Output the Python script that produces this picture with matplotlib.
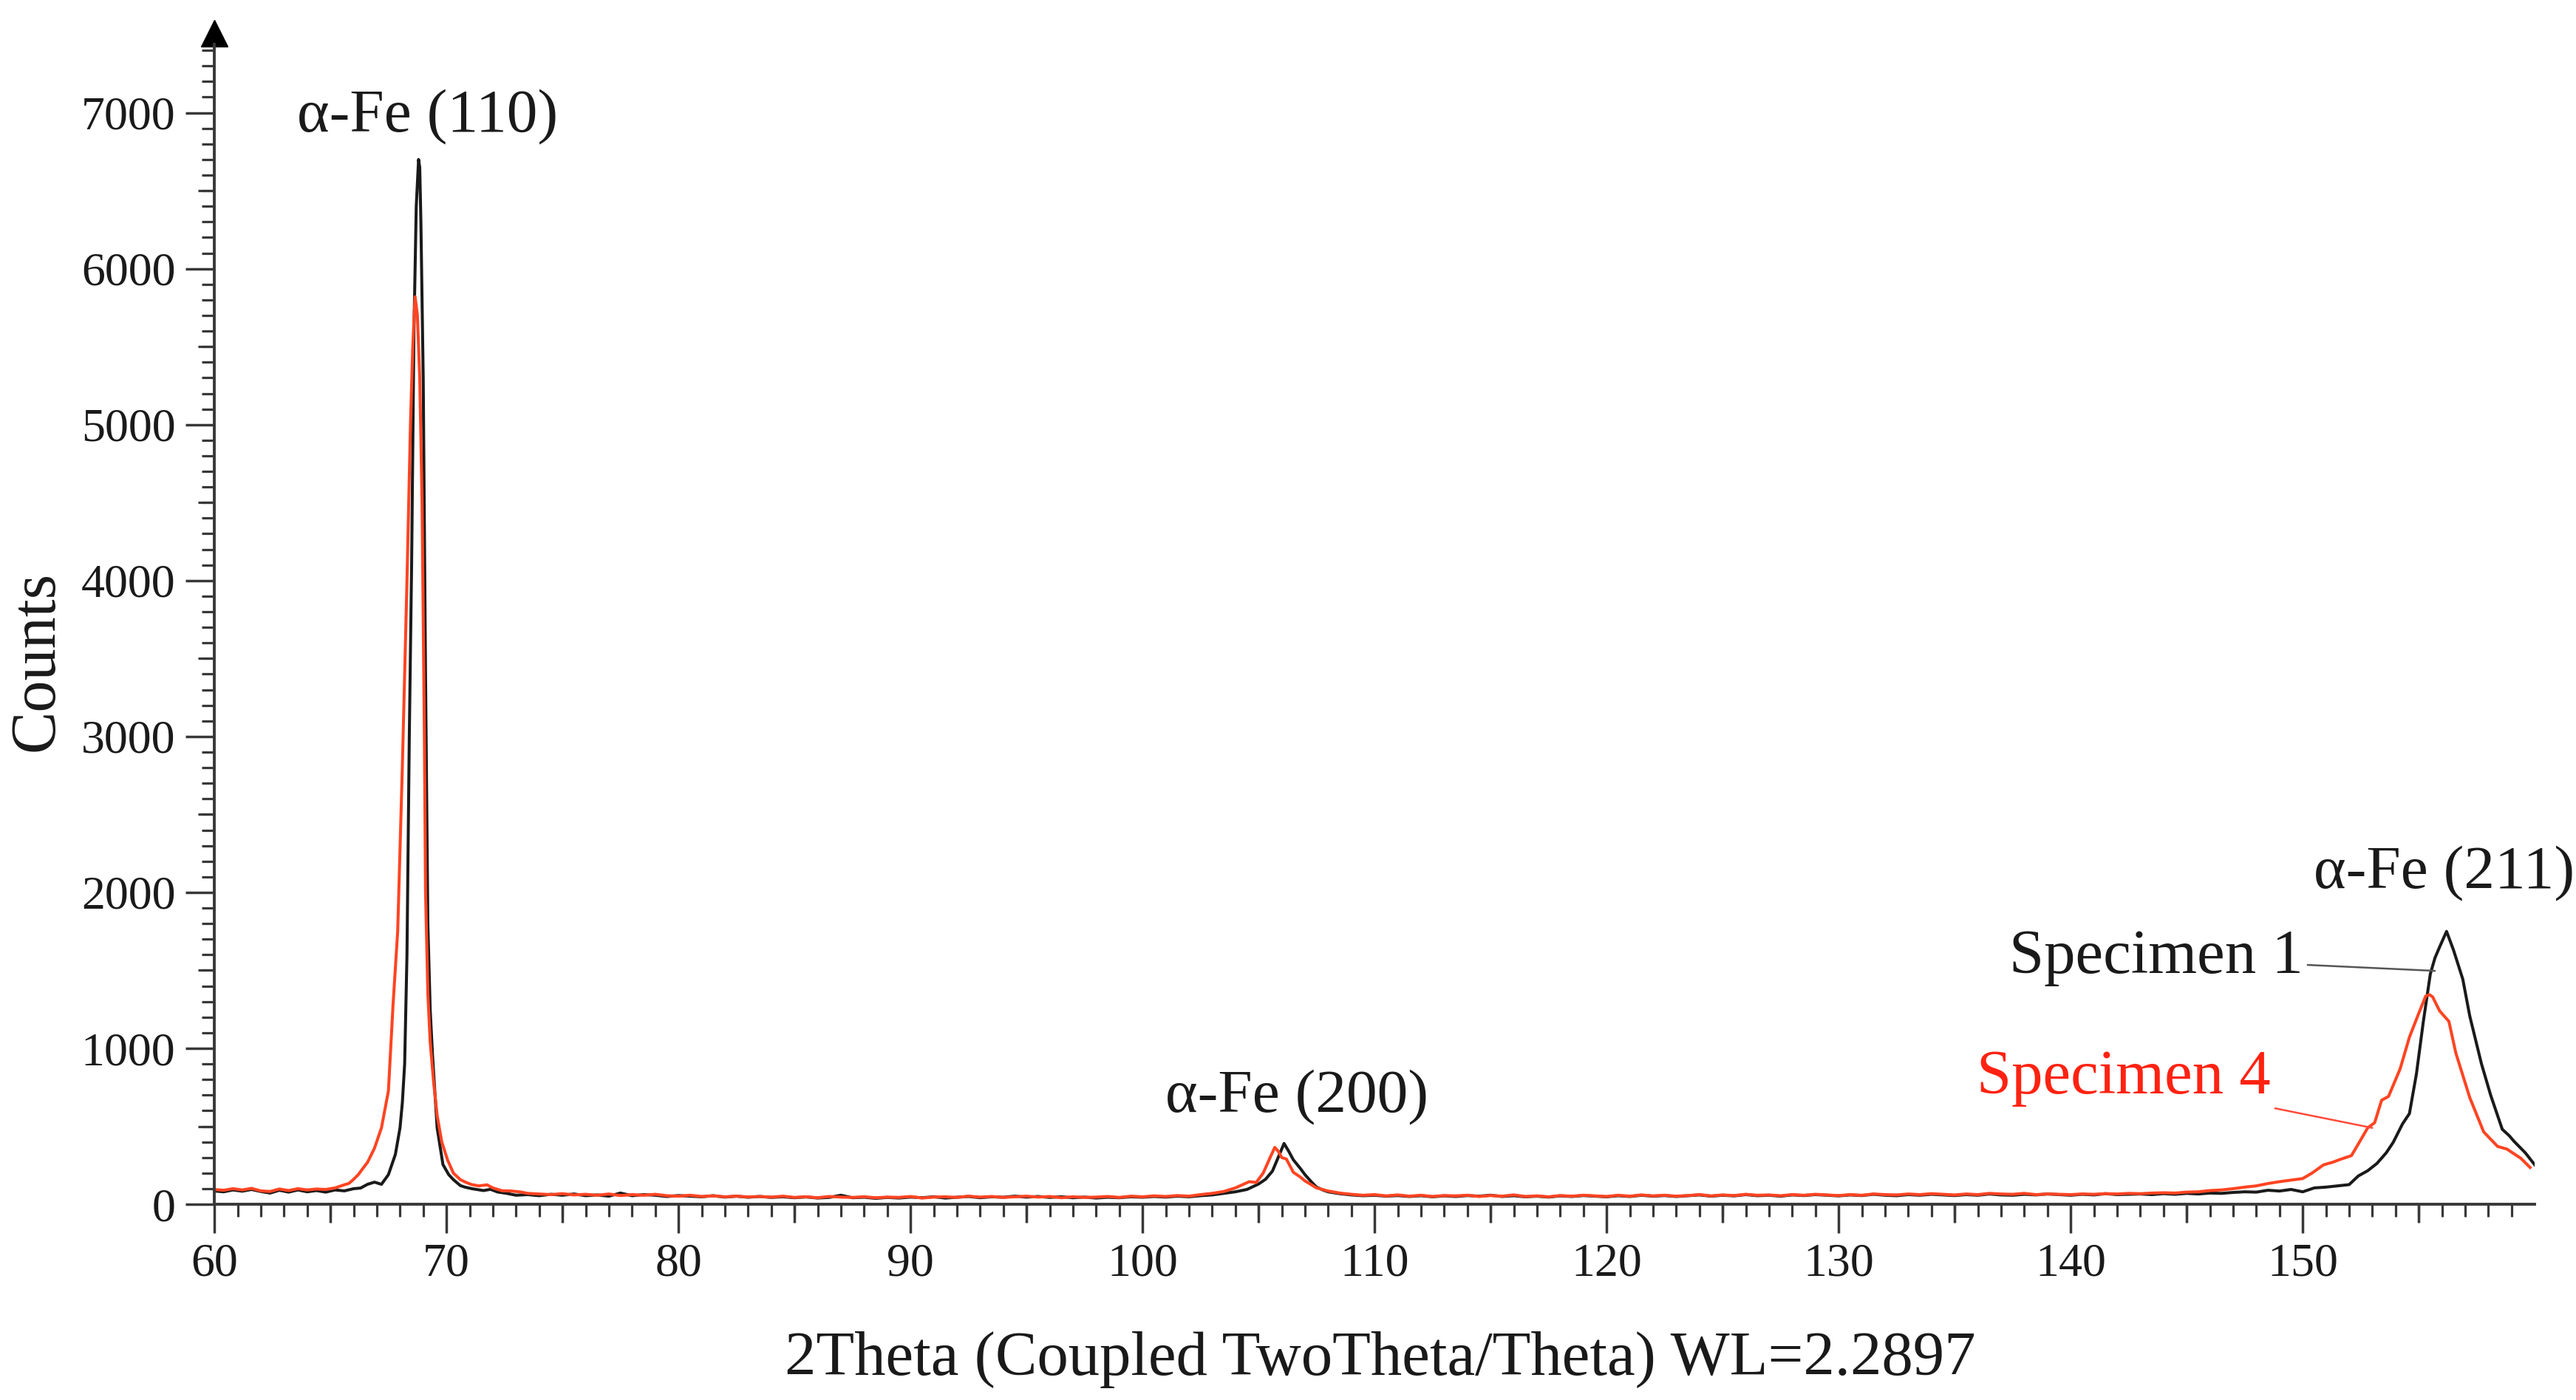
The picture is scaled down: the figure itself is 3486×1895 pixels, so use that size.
import numpy as np
import matplotlib.pyplot as plt

plt.rcParams['font.family'] = ['Liberation Serif', 'DejaVu Serif']

# ---- data (2theta in deg, counts) ----
# Specimen 1 (black)
s1_a_x = [60.0, 60.4, 60.8, 61.2, 61.6, 62.0, 62.4, 62.8, 63.2, 63.6, 64.0, 64.4, 64.8, 65.2, 65.6]
s1_a_y = [85, 80, 92, 84, 95, 82, 72, 90, 78, 92, 80, 88, 78, 92, 86]
s1_b_x = [66.0, 66.3, 66.6, 66.9, 67.2, 67.5, 67.8, 68.0, 68.1, 68.2, 68.3, 68.4, 68.5, 68.6,
          68.7, 68.8, 68.85, 68.9, 69.0, 69.1, 69.2, 69.3, 69.4, 69.6, 69.85, 70.1, 70.3, 70.6,
          70.8, 71.1, 71.3, 71.6, 71.9, 72.2, 72.6, 73.0]
s1_b_y = [100, 104, 128, 142, 128, 190, 320, 490, 650, 900, 1600, 3000, 4100, 5600,
          6400, 6700, 6650, 6300, 5300, 3400, 1800, 1250, 960, 490, 255, 190, 158, 120,
          110, 100, 95, 88, 96, 79, 70, 58]
s1_c_start = 73.5  # step 0.5
s1_c_y = [62, 55, 64, 58, 66, 55, 60, 52, 72, 55, 62, 58, 50, 56, 52, 48, 55, 46, 52, 45,
          50, 44, 48, 42, 47, 40, 44, 58, 42, 45, 38, 44, 40, 46, 42, 48, 40, 45, 50, 42,
          48, 45, 52, 46, 50, 44, 48, 42, 46, 40, 45, 42, 48, 45, 50, 46, 52, 48, 55]
s1_d_x = [103.0, 103.5, 104.0, 104.5, 105.0, 105.3, 105.6, 105.9, 106.1, 106.3, 106.5,
          106.8, 107.0, 107.3, 107.5, 107.8, 108.0]
s1_d_y = [60, 70, 80, 95, 130, 160, 213, 320, 390, 340, 285, 230, 190, 140, 110, 90, 80]
s1_e_start = 108.5  # step 0.5
s1_e_y = [68, 60, 55, 58, 52, 56, 50, 55, 48, 54, 50, 56, 52, 58, 50, 55, 48, 52, 46, 54,
          50, 56, 52, 48, 55, 50, 58, 52, 56, 50, 55, 60, 52, 58, 54, 62, 55, 58, 52, 60,
          56, 62, 58, 54, 60, 56, 64, 58, 55, 62, 58, 64, 60, 56, 62, 58, 66, 60, 58, 64,
          60, 66, 62, 58, 64, 60, 68, 62, 64, 66, 62, 68, 64, 70]
s1_f_x = [145.5, 146.0, 146.5, 147.0, 147.5, 148.0, 148.5, 149.0, 149.5, 150.0, 150.5, 151.0,
          151.5, 152.0, 152.4, 152.8, 153.2, 153.6, 153.9, 154.3, 154.6, 154.9, 155.2, 155.5,
          155.7, 155.9, 156.2, 156.5, 156.9, 157.2, 157.7, 158.1, 158.6, 158.9, 159.1, 159.6, 160.0]
s1_f_y = [66, 72, 70, 76, 80, 78, 90, 85, 95, 80, 105, 110, 118, 126, 182, 215, 262, 330,
          397, 515, 582, 835, 1173, 1477, 1580, 1650, 1750, 1630, 1443, 1207, 903, 700, 481,
          440, 405, 329, 253]

# Specimen 4 (red)
s4_a_x = [60.0, 60.4, 60.8, 61.2, 61.6, 62.0, 62.4, 62.8, 63.2, 63.6, 64.0, 64.4, 64.8, 65.2]
s4_a_y = [95, 90, 100, 92, 102, 86, 82, 98, 88, 100, 92, 98, 95, 105]
s4_b_x = [65.6, 65.8, 66.0, 66.2, 66.4, 66.6, 66.9, 67.2, 67.5, 67.7, 67.9, 68.1, 68.3, 68.45,
          68.55, 68.65, 68.75, 68.85, 68.95, 69.05, 69.1, 69.2, 69.3, 69.45, 69.6, 69.8, 70.05,
          70.3, 70.6, 70.85, 71.1, 71.4, 71.75, 72.0, 72.4, 72.8, 73.2]
s4_b_y = [125, 134, 160, 190, 230, 269, 360, 490, 727, 1280, 1750, 2800, 4000, 5000,
          5500, 5820, 5700, 5300, 4500, 3000, 2000, 1350, 1040, 780, 570, 400, 284,
          200, 158, 140, 126, 118, 125, 105, 87, 85, 79]
s4_c_start = 73.5  # step 0.5
s4_c_y = [70, 66, 62, 68, 60, 64, 58, 66, 56, 62, 58, 64, 55, 52, 58, 50, 54, 48, 52, 47,
          50, 46, 52, 44, 48, 42, 50, 46, 44, 48, 42, 46, 44, 50, 40, 46, 48, 44, 52, 46,
          50, 44, 48, 52, 46, 50, 42, 48, 44, 46, 50, 44, 52, 48, 54, 50, 56, 52]
s4_d_x = [102.5, 103.0, 103.5, 104.0, 104.3, 104.6, 104.9, 105.2, 105.5, 105.7, 105.85,
          106.0, 106.2, 106.5, 106.8, 107.0, 107.5, 108.0]
s4_d_y = [62, 70, 82, 105, 125, 145, 140, 200, 300, 365, 340, 300, 290, 205, 175, 150, 105, 85]
s4_e_start = 108.5  # step 0.5
s4_e_y = [72, 64, 58, 62, 54, 60, 52, 58, 50, 56, 54, 58, 50, 56, 52, 60, 50, 54, 48, 56,
          52, 58, 54, 50, 58, 52, 60, 54, 58, 52, 56, 62, 54, 60, 56, 64, 58, 60, 55, 62,
          58, 64, 60, 56, 62, 58, 66, 62, 60, 66, 62, 68, 64, 60, 66, 62, 70, 66, 64, 70,
          62, 66, 64, 62, 66, 64, 68, 66, 70, 68, 72, 74, 72, 78]
s4_f_x = [145.5, 146.0, 146.5, 147.0, 147.5, 148.0, 148.5, 149.0, 149.5, 150.0, 150.4, 150.9,
          151.3, 151.6, 152.1, 152.5, 152.8, 153.1, 153.4, 153.7, 154.2, 154.6, 155.0, 155.3,
          155.45, 155.6, 155.9, 156.3, 156.6, 157.2, 157.8, 158.4, 158.8, 159.4, 159.8]
s4_f_y = [80, 88, 92, 100, 110, 118, 133, 145, 155, 165, 200, 253, 270, 287, 312, 413, 490,
          523, 667, 692, 869, 1072, 1224, 1335, 1345, 1330, 1240, 1173, 970, 684, 464, 371,
          354, 295, 236]


def grid(start, vals, step=0.5):
    return list(start + step * np.arange(len(vals)))


s1_x = s1_a_x + s1_b_x + grid(s1_c_start, s1_c_y) + s1_d_x + grid(s1_e_start, s1_e_y) + s1_f_x
s1_y = s1_a_y + s1_b_y + s1_c_y + s1_d_y + s1_e_y + s1_f_y
s4_x = s4_a_x + s4_b_x + grid(s4_c_start, s4_c_y) + s4_d_x + grid(s4_e_start, s4_e_y) + s4_f_x
s4_y = s4_a_y + s4_b_y + s4_c_y + s4_d_y + s4_e_y + s4_f_y

peak_labels = ['α-Fe (110)', 'α-Fe (200)', 'α-Fe (211)']
peak_label_pos = [(69.2, 6970), (106.65, 683), (156.1, 2118)]

black = '#1a1a1a'
red_line = '#ff4422'
red_text = '#ff2211'
axis_col = '#383838'

fig = plt.figure(figsize=(34.87, 18.95), dpi=100)
ax = fig.add_axes([0.0832, 0.1398, 0.9005, 0.8465])

ax.plot(s1_x, s1_y, color=black, lw=2.9)
ax.plot(s4_x, s4_y, color=red_line, lw=2.9)

ax.set_xlim(60, 160)
ax.set_ylim(0, 7600)

for s in ['top', 'right']:
    ax.spines[s].set_visible(False)
ax.spines['left'].set_bounds(0, 7440)
ax.spines['bottom'].set_bounds(60, 160)
for s in ['left', 'bottom']:
    ax.spines[s].set_color(axis_col)
    ax.spines[s].set_linewidth(2.8)

# axis arrow on the y axis
ax.plot([60], [7512], marker='^', ms=26, color='black', clip_on=False)

ax.set_xticks(np.arange(60, 151, 10))
ax.set_xticks(np.arange(60, 160, 1), minor=True)
ax.set_yticks(np.arange(0, 7001, 1000))
ax.set_yticks(np.arange(0, 7401, 100), minor=True)
ax.tick_params(which='major', length=28, width=2.5, color=axis_col, labelsize=46, pad=10,
               labelcolor=black)
ax.tick_params(which='minor', length=12, width=2.3, color=axis_col)

# medium ticks (every 5 deg / every 500 counts)
secx = ax.secondary_xaxis('bottom')
secx.set_xticks(np.arange(65, 160, 10))
secx.tick_params(length=18, width=2.5, color=axis_col, labelbottom=False)
secx.spines['bottom'].set_visible(False)
secy = ax.secondary_yaxis('left')
secy.set_yticks(np.arange(500, 7001, 1000))
secy.tick_params(length=16, width=2.3, color=axis_col, labelleft=False)
secy.spines['left'].set_visible(False)

ax.set_ylabel('Counts', fontsize=62, color=black)
ax.yaxis.set_label_coords(-0.0635, 0.458)
ax.set_xlabel('2Theta (Coupled TwoTheta/Theta) WL=2.2897', fontsize=61, color=black)
ax.xaxis.set_label_coords(0.5025, -0.107)

for lab, (px, py) in zip(peak_labels, peak_label_pos):
    ax.text(px, py, lab, ha='center', va='center', fontsize=60, color=black)

ax.annotate('Specimen 1', xy=(155.7, 1497), xytext=(143.7, 1580), ha='center', va='center',
            fontsize=61, color=black,
            arrowprops=dict(arrowstyle='-', color='#555555', lw=1.8, shrinkA=2, shrinkB=0))
ax.annotate('Specimen 4', xy=(153.0, 490), xytext=(142.3, 810), ha='center', va='center',
            fontsize=61, color=red_text,
            arrowprops=dict(arrowstyle='-', color='#ff4a3a', lw=1.8, shrinkA=2, shrinkB=0))

fig.savefig('out.png', dpi=100, facecolor='white')
